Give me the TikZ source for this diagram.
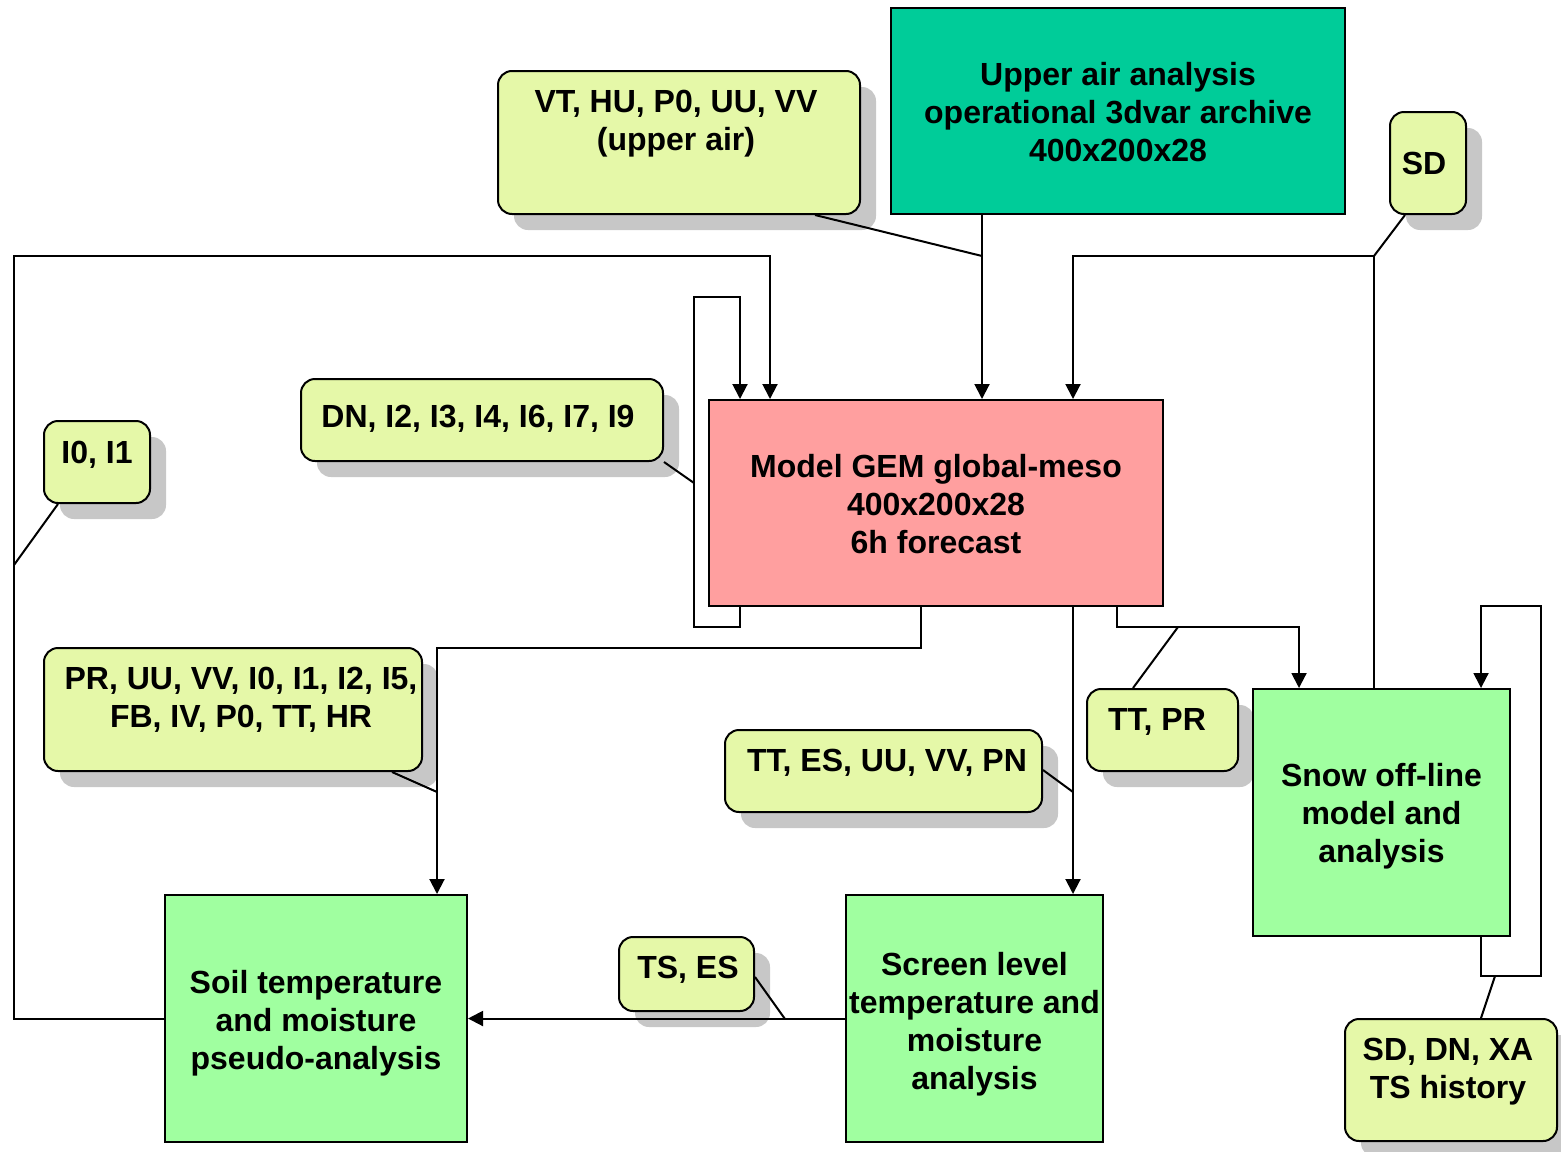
\documentclass[tikz,border=0pt]{standalone}
\usepackage{fontspec}
\setmainfont{Liberation Sans}
\usetikzlibrary{arrows.meta,shadows}
\definecolor{teal1}{HTML}{00CC99}
\definecolor{yel1}{HTML}{E5F8A8}
\definecolor{pink1}{HTML}{FF9F9F}
\definecolor{grn1}{HTML}{A0FFA0}
\tikzset{
  ybox/.style={draw, line width=1pt, fill=yel1, rounded corners=7pt, inner sep=0pt,
    drop shadow={shadow xshift=8pt, shadow yshift=-8pt, fill=black!22, opacity=1}},
  rbox/.style={draw, line width=1pt, inner sep=0pt},
  txt/.style={inner sep=0pt, align=center, font=\fontsize{16}{19}\selectfont\bfseries},
  ln/.style={line width=1pt},
  arr/.style={line width=1pt, -{Triangle[length=7.5pt, width=7.5pt]}},
}
\begin{document}
\begin{tikzpicture}[x=0.5pt, y=-0.5pt]
\useasboundingbox (0,0) rectangle (1561,1151);
% yellow callout boxes
\node[ybox, minimum width=181pt, minimum height=71.5pt] (vt) at (679,142.5) {};
\node[txt] (vtt) at (676,124) {VT, HU, P0, UU, VV\\(upper air)};
\node[ybox, minimum width=38pt, minimum height=51pt] (sd) at (1428,163) {};
\node[txt] (sdt) at (1424,163) {SD};
\node[ybox, minimum width=181pt, minimum height=41pt] (dn) at (482,420) {};
\node[txt] (dnt) at (478,419) {DN, I2, I3, I4, I6, I7, I9};
\node[ybox, minimum width=53pt, minimum height=41pt] (i01) at (97,462) {};
\node[txt] (i01t) at (97,455) {I0, I1};
\node[ybox, minimum width=189pt, minimum height=61.5pt] (pr) at (233,709.5) {};
\node[txt] (prt) at (241,700) {PR, UU, VV, I0, I1, I2, I5,\\FB, IV, P0, TT, HR};
\node[ybox, minimum width=75.5pt, minimum height=41pt] (ttpr) at (1162.5,730) {};
\node[txt] (ttprt) at (1157,722) {TT, PR};
\node[ybox, minimum width=158.5pt, minimum height=41pt] (ttes) at (883.5,771) {};
\node[txt] (ttest) at (887,763) {TT, ES, UU, VV, PN};
\node[ybox, minimum width=67.5pt, minimum height=37pt] (tses) at (686.5,974) {};
\node[txt] (tsest) at (688,970) {TS, ES};
\node[ybox, minimum width=106pt, minimum height=61pt] (sdh) at (1451,1080) {};
\node[txt] (sdht) at (1448,1072) {SD, DN, XA\\TS history};
% main boxes
\node[rbox, fill=teal1, minimum width=227pt, minimum height=103pt] (up) at (1118,111) {};
\node[txt] (upt) at (1118,112.5) {Upper air analysis\\operational 3dvar archive\\400x200x28};
\node[rbox, fill=pink1, minimum width=227pt, minimum height=103pt] (gem) at (936,503) {};
\node[txt] (gemt) at (936,504.5) {Model GEM global-meso\\400x200x28\\6h forecast};
\node[rbox, fill=grn1, minimum width=128.5pt, minimum height=123.5pt] (snow) at (1381.5,812.5) {};
\node[txt] (snowt) at (1381.5,816.5) {Snow off-line\\model and\\analysis};
\node[rbox, fill=grn1, minimum width=151pt, minimum height=123.5pt] (soil) at (316,1018.5) {};
\node[txt] (soilt) at (316,1023.5) {Soil temperature\\and moisture\\pseudo-analysis};
\node[rbox, fill=grn1, minimum width=128.5pt, minimum height=123.5pt] (screen) at (974.5,1018.5) {};
\node[txt] (screent) at (974.5,1024) {Screen level\\temperature and\\moisture\\analysis};
% junction coordinates
\coordinate (j1) at (982,256);
\coordinate (j2) at (1374,256);
\coordinate (j3) at (694,483);
\coordinate (j4) at (14,565);
\coordinate (j5) at (437,792);
\coordinate (j6) at (1073,792);
\coordinate (j7) at (1178,627);
\coordinate (j8) at (785,1019);
\coordinate (j9) at (1495,976);
% connectors
\draw[arr] (up.south -| 982,0) -- (gem.north -| 982,0);
\draw[arr] (soil.west) -| (14,256) -| (gem.north -| 770,0);
\draw[arr] (gem.south -| 740,0) |- (694,627) |- (740,297) -- (gem.north -| 740,0);
\draw[arr] (snow.north -| 1374,0) |- (1073,256) -- (gem.north -| 1073,0);
\draw[arr] (gem.south -| 921,0) |- (437,648) -- (soil.north -| 437,0);
\draw[arr] (gem.south -| 1073,0) -- (screen.north -| 1073,0);
\draw[arr] (gem.south -| 1117,0) |- (1299,627) -- (snow.north -| 1299,0);
\draw[arr] (snow.south -| 1481,0) |- (1541,976) |- (1481,606) -- (snow.north -| 1481,0);
\draw[arr] (screen.west) -- (soil.east);
% callout leaders
\draw[ln] (vt.south -| 815,0) -- (j1);
\draw[ln] (sd.south -| 1405,0) -- (j2);
\draw[ln] (dn.south east) -- (j3);
\draw[ln] (i01.south -| 58,0) -- (j4);
\draw[ln] (pr.south -| 392,0) -- (j5);
\draw[ln] (ttes.east |- 0,770) -- (j6);
\draw[ln] (ttpr.north -| 1133,0) -- (j7);
\draw[ln] (tses.east |- 0,977) -- (j8);
\draw[ln] (sdh.north -| 1481,0) -- (j9);
\end{tikzpicture}
\end{document}
